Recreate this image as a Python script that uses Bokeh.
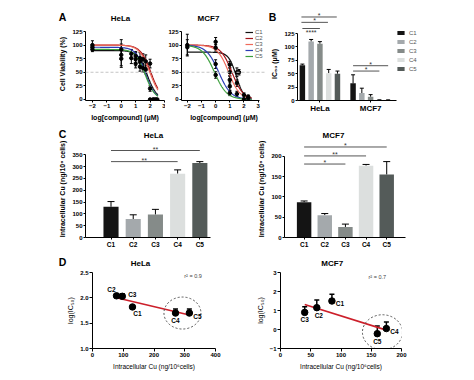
import numpy as np
from bokeh.plotting import figure
from bokeh.layouts import row, column
from bokeh.models import (ColumnDataSource, Whisker, TeeHead, Label, Span,
                          Legend, LegendItem, Range1d, Spacer)
from bokeh.embed import file_html
from bokeh.resources import INLINE
from bokeh.core.properties import value

FONT = "Liberation Sans"

# ---------------- data ----------------
compounds = ["C1", "C2", "C3", "C4", "C5"]
cell_lines = ["HeLa", "MCF7"]
panel_letters = ["A", "B", "C", "D"]

# Panel A: viability measurements (log dose, % viability, SD)
dose_ticks = [-2, -1, 0, 1, 2, 3]
viab_ticks = [0, 25, 50, 75, 100, 125]
hela_dose = [-2, -2, -2, 0, 0, 0, 0.7, 0.7, 1, 1, 1, 1.3, 1.3, 1.3, 1.5, 1.5,
             1.7, 1.7, 2, 2, 2, 2.2, 2.3, 2.4, 2.5]
hela_viab = [100, 96, 92, 92, 82, 75, 84, 76, 80, 74, 66, 76, 70, 60, 74, 58,
             70, 55, 66, 20, 0, 0, 0, 0, 0]
hela_sd = [8, 5, 4, 18, 20, 16, 8, 10, 8, 12, 8, 10, 8, 8, 10, 8,
           12, 8, 8, 5, 0, 0, 0, 0, 0]
mcf7_dose = [-2, -2, 0, 0, 0, 0, 1, 1, 1, 1, 1, 1.5, 1.5, 1.5, 1.65, 2, 2, 2.3, 2.3]
mcf7_viab = [100, 96, 106, 95, 65, 45, 64, 50, 36, 24, 12, 50, 30, 10, 50, 8, 0, 5, 2]
mcf7_sd = [20, 14, 8, 6, 8, 6, 6, 8, 8, 8, 5, 8, 6, 5, 5, 4, 0, 3, 0]
# fitted dose-response curve parameters (top, log EC50, Hill slope)
hela_fit_top = [90, 100, 100, 96, 92]
hela_fit_logec50 = [1.80, 2.05, 1.98, 1.68, 1.66]
hela_fit_hill = [1.3, 1.2, 1.2, 1.3, 1.3]
mcf7_fit_top = [87, 100, 100, 100, 100]
mcf7_fit_logec50 = [1.45, 1.15, 0.92, 0.22, -0.08]
mcf7_fit_hill = [1.6, 1.1, 1.1, 1.0, 1.0]

# Panel B: IC50 (uM)
ic50_ticks = [0, 25, 50, 75, 100, 125]
ic50_hela = [66, 110, 106, 51, 50]
ic50_hela_err = [2, 4, 4, 7, 5]
ic50_mcf7 = [32, 14, 7, 1.2, 0.8]
ic50_mcf7_err = [16, 9, 4, 0.5, 0.4]
# significance brackets: (cell line, from, to, level, stars)
sig_b = [("HeLa", 0, 4, 156, "*"), ("HeLa", 0, 3, 146, "*"),
         ("HeLa", 0, 2, 134.5, "****"), ("MCF7", 0, 4, 65, "*"),
         ("MCF7", 0, 3, 55, "*")]

# Panel C: intracellular Cu (ng/10^6 cells)
cu_hela = [130, 78, 97, 270, 315]
cu_hela_err = [22, 18, 22, 16, 6]
cu_mcf7 = [87, 55, 26, 177, 155]
cu_mcf7_err = [3, 4, 7, 3, 32]
cu_hela_ticks = [0, 50, 100, 150, 200, 250, 300, 350]
cu_mcf7_ticks = [0, 50, 100, 150, 200]
sig_c_hela = [(0, 4, 368, "**"), (0, 3, 321, "**")]
sig_c_mcf7 = [(0, 4, 223, "*"), (0, 3, 201, "**"), (0, 2, 181, "*")]

# Panel D: log(IC50) vs intracellular Cu
d_hela_cu = [130, 78, 97, 270, 315]
d_hela_logic50 = [1.82, 2.04, 2.03, 1.70, 1.70]
d_hela_err = [0.0, 0.0, 0.05, 0.08, 0.08]
d_mcf7_cu = [85, 60, 40, 175, 160]
d_mcf7_logic50 = [1.50, 1.15, 0.90, 0.05, -0.22]
d_mcf7_err = [0.35, 0.40, 0.30, 0.35, 0.40]
r2_values = [0.9, 0.7]

# ---------------- styles ----------------
curve_colors = ["#111111", "#a3161c", "#ef6a5a", "#2a3cb5", "#3c9f3c"]
bar_colors = ["#141414", "#a4a9ac", "#858b89", "#dcdfde", "#545b59"]


def base_fig(w, h, xr, yr, mbl, mbr, mbt, mbb):
    p = figure(width=w, height=h, x_range=Range1d(*xr), y_range=Range1d(*yr),
               output_backend="svg", toolbar_location=None,
               min_border_left=mbl, min_border_right=mbr,
               min_border_top=mbt, min_border_bottom=mbb)
    p.outline_line_color = None
    p.xgrid.visible = False
    p.ygrid.visible = False
    p.background_fill_color = "white"
    p.border_fill_color = "white"
    for ax in p.axis:
        ax.axis_line_color = "black"
        ax.axis_line_width = 1
        ax.major_tick_line_color = "black"
        ax.major_tick_in = 0
        ax.major_tick_out = 2
        ax.minor_tick_line_color = None
        ax.major_label_standoff = 1
        ax.major_label_text_font = FONT
        ax.major_label_text_font_size = "6px"
        ax.major_label_text_font_style = "bold"
        ax.major_label_text_color = "black"
        ax.axis_label_text_font = FONT
        ax.axis_label_text_font_size = "7px"
        ax.axis_label_text_font_style = "bold"
        ax.axis_label_text_color = "black"
        ax.axis_label_standoff = 3
    return p


def header_fig(w, h, xr, yr):
    p = figure(width=w, height=h, x_range=Range1d(*xr), y_range=Range1d(*yr),
               output_backend="svg", toolbar_location=None,
               x_axis_location=None, y_axis_location=None,
               min_border_left=0, min_border_right=0, min_border_top=0, min_border_bottom=0)
    p.outline_line_color = None
    p.grid.visible = False
    return p


def htext(p, x, y, text, size):
    p.text(x=[x], y=[y], text=[text], text_font=value(FONT), text_font_size=size,
           text_font_style="bold", text_align="center", text_baseline="middle",
           text_color="black")


def add_err(p, xs, ys, errs, size, both=True, width=1):
    src = ColumnDataSource(dict(x=xs, lo=[y - e for y, e in zip(ys, errs)] if both else ys,
                                hi=[y + e for y, e in zip(ys, errs)]))
    w = Whisker(base="x", lower="lo", upper="hi", source=src, dimension="height",
                line_color="black", line_width=width,
                upper_head=TeeHead(size=size, line_color="black", line_width=width),
                lower_head=TeeHead(size=size, line_color="black", line_width=width) if both else None)
    p.add_layout(w)


def add_sig(p, pos, sigs, fsize="7px"):
    for (a, b, lvl, stars) in sigs:
        p.segment(x0=[pos[a]], y0=[lvl], x1=[pos[b]], y1=[lvl], line_color="#555555", line_width=1)
        below = stars == "****"
        p.text(x=[(pos[a] + pos[b]) / 2], y=[lvl], text=[stars], text_font=value(FONT),
               text_font_size=fsize, text_align="center", text_baseline="middle",
               y_offset=4 if below else -1.5, text_color="#333333")


# ================= Row 1 : panels A and B =================
# header strip (coordinates are page pixels)
hdrA = header_fig(260, 19, (8, 268), (27, 8))
htext(hdrA, 62, 16, panel_letters[0], "10.5px")
htext(hdrA, 120, 18, cell_lines[0], "8px")
htext(hdrA, 208, 18, cell_lines[1], "8px")

xs_fit = np.linspace(-2, 2.55, 200)


def panel_a(p, dose, viab, sd, tops, ecs, hills):
    p.add_layout(Span(location=50, dimension="width", line_color="#c4c4c4",
                      line_dash="3 2", line_width=1))
    rends = []
    for i in range(5):
        yfit = tops[i] / (1 + 10 ** ((xs_fit - ecs[i]) * hills[i]))
        r = p.line(xs_fit, yfit, line_color=curve_colors[i], line_width=1.2)
        rends.append(r)
    add_err(p, dose, viab, sd, 3, both=True)
    p.scatter(dose, viab, size=3.5, color="black")
    p.xaxis.ticker = dose_ticks
    p.yaxis.ticker = viab_ticks
    p.yaxis.bounds = (-2, 125)
    p.xaxis.axis_label = "log[compound] (μM)"
    return rends


pA1 = base_fig(157, 99, (-2.48, 3.0), (-2, 132.4), 77, 1, 0, 26)
panel_a(pA1, hela_dose, hela_viab, hela_sd, hela_fit_top, hela_fit_logec50, hela_fit_hill)
pA1.yaxis.axis_label = "Cell Viability (%)"

pA2 = base_fig(103, 99, (-2.41, 3.59), (-2, 132.4), 14, 2, 0, 26)
rA2 = panel_a(pA2, mcf7_dose, mcf7_viab, mcf7_sd, mcf7_fit_top, mcf7_fit_logec50, mcf7_fit_hill)
pA2.xaxis.bounds = (-2.41, 3.1)
items = []
for i, c in enumerate(compounds):
    mk = pA2.scatter(x=[], y=[], marker="square", size=3, color=curve_colors[i])
    items.append(LegendItem(label=c, renderers=[rA2[i], mk]))
legA = Legend(items=items, location=(64, 41), label_text_font=FONT,
              label_text_font_size="6px", label_text_color="#555555",
              glyph_width=8, glyph_height=6, label_height=6, label_standoff=2,
              spacing=0, padding=0, margin=0, border_line_color=None,
              background_fill_alpha=0)
pA2.add_layout(legA)

# Panel B geometry: x unit = distance between group centres
bar_step = 0.173
pos_b = {g: [gi + 1 + (i - 2) * bar_step for i in range(5)] for gi, g in enumerate(cell_lines)}
hdrB = header_fig(198, 19, (0.0098, 3.8845), (136.37, 171.87))
htext(hdrB, 0.088, 156.9, panel_letters[1], "10.5px")

pB = base_fig(198, 99, (0.5577, 2.9843), (0, 136.37), 28, 46, 0, 26)
for i, c in enumerate(compounds):
    pB.vbar(x=[pos_b["HeLa"][i], pos_b["MCF7"][i]], top=[ic50_hela[i], ic50_mcf7[i]],
            width=0.108, fill_color=bar_colors[i], line_color=None, legend_label=c)
add_err(pB, pos_b["HeLa"] + pos_b["MCF7"], ic50_hela + ic50_mcf7,
        ic50_hela_err + ic50_mcf7_err, 4, both=False)
for (g, a, b, lvl, stars) in sig_b:
    tgt = hdrB if lvl > 136.37 else pB
    add_sig(tgt, pos_b[g], [(a, b, lvl, stars)], "7px")
pB.yaxis.ticker = ic50_ticks
pB.yaxis.bounds = (0, 125)
pB.yaxis.axis_label = "IC₅₀ (μM)"
pB.xaxis.ticker = [1, 2]
pB.xaxis.bounds = (0.5577, 2.5147)
pB.xaxis.major_label_overrides = {1: cell_lines[0], 2: cell_lines[1]}
pB.xaxis.major_label_text_font_size = "8px"
pB.legend.location = (99, 27)
pB.legend.label_text_font = FONT
pB.legend.label_text_font_size = "6px"
pB.legend.label_text_color = "#555555"
pB.legend.glyph_width = 9
pB.legend.glyph_height = 5
pB.legend.label_height = 9
pB.legend.label_standoff = 4
pB.legend.spacing = 0
pB.legend.padding = 0
pB.legend.margin = 0
pB.legend.border_line_color = None
pB.legend.background_fill_alpha = 0

# ================= Row 2 : panel C =================
hdrC = header_fig(458, 14, (8, 466), (140, 126))
htext(hdrC, 62, 133, panel_letters[2], "10.5px")
htext(hdrC, 153, 135, cell_lines[0], "8px")
htext(hdrC, 333, 135, cell_lines[1], "8px")


def panel_c(p, vals, errs, ticks, bounds, sigs, width):
    pos = list(range(1, 6))
    p.vbar(x=pos, top=vals, width=width, fill_color=bar_colors, line_color=None)
    add_err(p, pos, vals, errs, 7, both=False)
    add_sig(p, pos, sigs, "7px")
    p.xaxis.ticker = pos
    p.xaxis.major_label_overrides = {k: c for k, c in zip(pos, compounds)}
    p.xaxis.major_label_text_font_size = "6.5px"
    p.yaxis.ticker = ticks
    p.yaxis.bounds = bounds
    p.yaxis.axis_label = "Intracellular Cu (ng/10⁶ cells)"


pC1 = base_fig(247, 114, (-0.149, 5.48), (0, 410.3), 77, 45, 0, 17)
panel_c(pC1, cu_hela, cu_hela_err, cu_hela_ticks, (0, 350), sig_c_hela, 0.68)

pC2 = base_fig(211, 114, (0.05, 5.91), (0, 239), 24, 61, 0, 16)
panel_c(pC2, cu_mcf7, cu_mcf7_err, cu_mcf7_ticks, (0, 200), sig_c_mcf7, 0.7)

# ================= Row 3 : panel D =================
hdrD = header_fig(458, 14, (8, 466), (268, 254))
htext(hdrD, 62, 261.5, panel_letters[3], "10.5px")
htext(hdrD, 140, 263, cell_lines[0], "8px")
htext(hdrD, 331.7, 263, cell_lines[1], "8px")


def panel_d(p, cu, lic, err):
    add_err(p, cu, lic, err, 5, both=False, width=1.5)
    k, b = np.polyfit(cu, lic, 1)
    xl = np.array([min(cu), max(cu)])
    p.line(xl, k * xl + b, line_color="#cc1f2a", line_width=1.6)
    p.scatter(cu, lic, size=6.5, color="black")
    return (cu[3] + cu[4]) / 2, (lic[3] + lic[4]) / 2


def point_labels(p, cu, lic, offs):
    for i, c in enumerate(compounds):
        p.text(x=[cu[i]], y=[lic[i]], text=[c], text_font=value(FONT),
               text_font_size="6.5px", text_font_style="bold", text_align="center",
               text_baseline="middle", x_offset=offs[i][0], y_offset=offs[i][1])


pD1 = base_fig(242, 104, (0, 400), (1.0, 2.5), 84, 35, 4, 20)
pD1.xaxis.ticker = [0, 100, 200, 300, 400]
pD1.yaxis.ticker = [1.0, 1.5, 2.0, 2.5]
pD1.yaxis.major_label_overrides = {1.0: "1.0", 1.5: "1.5", 2.0: "2.0", 2.5: "2.5"}
cx, cy = panel_d(pD1, d_hela_cu, d_hela_logic50, d_hela_err)
pD1.ellipse(x=[cx], y=[cy], width=37, height=32, width_units="screen", height_units="screen",
            fill_color=None, line_color="#555555", line_dash="2 2", line_width=1)
point_labels(pD1, d_hela_cu, d_hela_logic50, [(5, 7), (-5, -6), (10, -2), (0, 7), (8, 3.5)])
pD1.add_layout(Label(x=327, y=2.44, text="r² = %.1f" % r2_values[0], text_font=FONT,
                     text_font_size="5.5px", text_align="center", text_baseline="middle"))

pD2 = base_fig(216, 104, (0, 200), (-1, 3), 30, 65, 4, 20)
pD2.xaxis.ticker = [0, 50, 100, 150, 200]
pD2.yaxis.ticker = [-1, 0, 1, 2, 3]
cx2, cy2 = panel_d(pD2, d_mcf7_cu, d_mcf7_logic50, d_mcf7_err)
pD2.ellipse(x=[cx2 + 1], y=[cy2 - 0.06], width=40, height=35, width_units="screen",
            height_units="screen", fill_color=None, line_color="#555555",
            line_dash="2 2", line_width=1)
point_labels(pD2, d_mcf7_cu, d_mcf7_logic50, [(8, 2), (2, 8), (0, 7.5), (8, 3), (0, 8)])
pD2.add_layout(Label(x=160, y=2.77, text="r² = %.1f" % r2_values[1], text_font=FONT,
                     text_font_size="5.5px", text_align="center", text_baseline="middle"))

for p in (pD1, pD2):
    p.xaxis.axis_label = "Intracellular Cu (ng/10⁶cells)"
    p.yaxis.axis_label = "log(IC₅₀)"
    p.xaxis.axis_label_text_font_style = "normal"
    p.yaxis.axis_label_text_font_style = "normal"
    p.xaxis.axis_label_text_font_size = "6.5px"
    p.axis.major_tick_out = 3

body = column(row(hdrA, hdrB), row(pA1, pA2, pB), hdrC, row(pC1, pC2),
              hdrD, row(pD1, pD2))
layout = column(Spacer(height=8), row(Spacer(width=8), body))
open("out.html", "w").write(file_html(layout, INLINE))
